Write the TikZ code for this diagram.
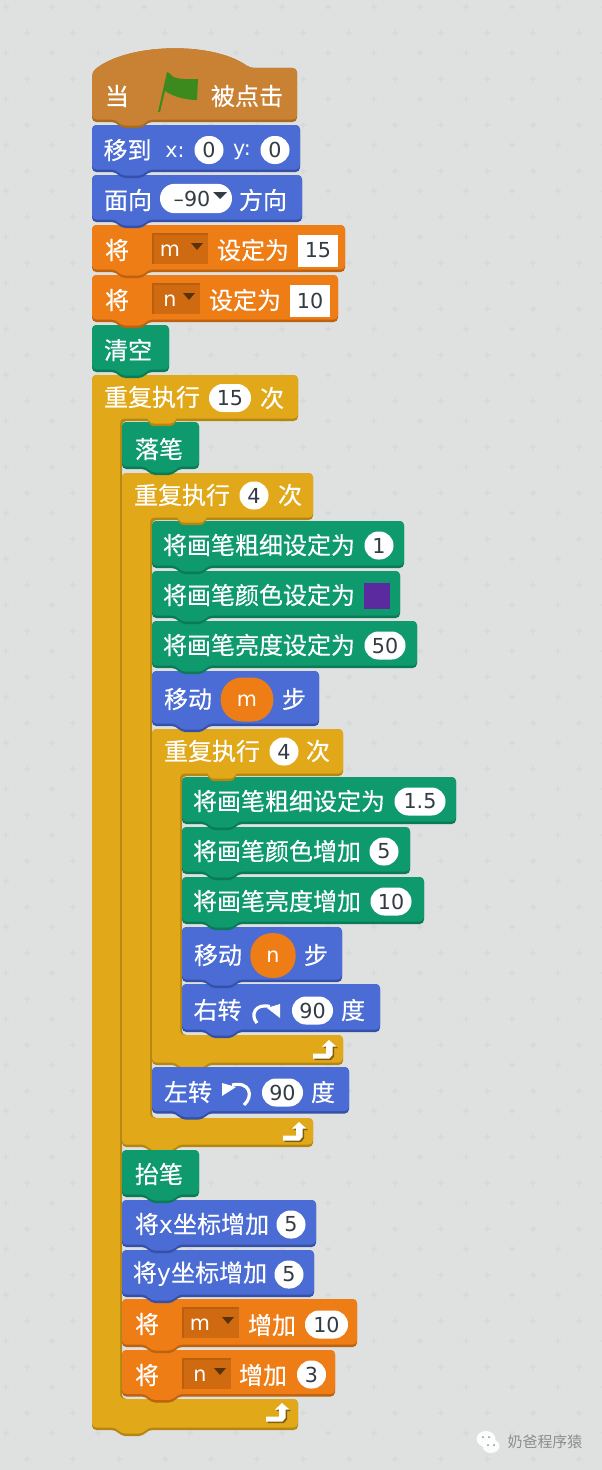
\documentclass[tikz,border=0pt]{standalone}
\usepackage{fontspec}
\setmainfont{Noto Sans CJK SC}[FakeBold=0.35]
\newfontfamily\wmfont{Noto Sans CJK SC}
\newfontfamily\latn{DejaVu Sans}
\definecolor{bgc}{HTML}{DFE1E1}
\definecolor{plusc}{HTML}{D7D9D9}
\definecolor{hatM}{HTML}{C98233}\definecolor{hatD}{HTML}{A96A22}
\definecolor{motM}{HTML}{4A6CD4}\definecolor{motD}{HTML}{3550A8}
\definecolor{penM}{HTML}{0E9A6C}\definecolor{penD}{HTML}{0B7A56}
\definecolor{datM}{HTML}{EE7D16}\definecolor{datD}{HTML}{BD6210}
\definecolor{ctlM}{HTML}{E1A91A}\definecolor{ctlD}{HTML}{B58712}
\definecolor{ddM}{HTML}{CF6A10}
\definecolor{ddT}{HTML}{5A3208}
\definecolor{ink}{HTML}{333B45}
\definecolor{wm}{HTML}{8C8E8E}
\definecolor{purp}{HTML}{5B2A9E}
\definecolor{flagc}{HTML}{3C8A1E}
\tikzset{
 x=.75pt,y=-.75pt,
 lab/.style={text=white,font=\fontsize{18}{19}\selectfont,inner sep=0pt,anchor=center},
 latlab/.style={text=white,font=\latn\fontsize{15.5}{18}\selectfont,inner sep=0pt,anchor=center,text height=11pt},
 oval/.style={fill=white,text=ink,font=\latn\fontsize{15.5}{18}\selectfont,inner sep=0pt,minimum height=21pt,rounded corners=10.4pt},
 ddbox/.style={text=white,font=\latn\fontsize{15.5}{18}\selectfont,inner sep=0pt,text height=11pt},
 tbox/.style={fill=white,text=ink,font=\latn\fontsize{15.5}{18}\selectfont,inner sep=0pt},
 varoval/.style={fill=datM,text=white,font=\latn\fontsize{15.5}{18}\selectfont,inner sep=0pt,text height=11pt,rounded corners=16pt},
}
% tab outline helper: x, y of bottom edge
\newcommand\blkpath[3]{(0,0) -- (#1,0) -- (#1,#2) -- (56,#2) -- (51,#2+#3) -- (29,#2+#3) -- (24,#2) -- (0,#2) -- cycle}
% block: x y w h main dark
\newcommand\blk[6]{\begin{scope}[shift={(#1,#2)}]
 \fill[#6,rounded corners=3.2pt] \blkpath{#3}{#4}{6};
 \fill[#5,rounded corners=3.2pt] \blkpath{#3}{#4-2.5}{6};
\end{scope}}
% C block: x y w headh inner-end foot-bottom (absolute heights relative to y) footw
\newcommand\cblk[7]{\begin{scope}[shift={(#1,#2)}]
 \fill[ctlD,rounded corners=3.2pt] (0,0) -- (#3,0) -- (#3,#4) -- (30,#4) -- (30,#5) -- (#7,#5) -- (#7,#6) -- (56,#6) -- (51,#6+6) -- (29,#6+6) -- (24,#6) -- (0,#6) -- cycle;
 \fill[ctlM,rounded corners=3.2pt] (0,0) -- (#3,0) -- (#3,#4-2.5) -- (28,#4-2.5) -- (28,#5) -- (#7,#5) -- (#7,#6-2.5) -- (56,#6-2.5) -- (51,#6+3.5) -- (29,#6+3.5) -- (24,#6-2.5) -- (0,#6-2.5) -- cycle;
\end{scope}}
% header tab over the first child: x of child, y(bottom of header)
\newcommand\ctab[2]{\begin{scope}[shift={(#1,#2)}]
 \fill[ctlD,rounded corners=2pt] (24,-3) -- (29,5) -- (51,5) -- (56,-3) -- cycle;
 \fill[ctlM,rounded corners=2pt] (24,-4) -- (29,2.5) -- (51,2.5) -- (56,-4) -- cycle;
\end{scope}}
\newcommand\tlab[4]{\node[lab] (#1) at (#2,#3) {#4};}
\newcommand\llab[4]{\node[latlab] (#1) at (#2,#3) {#4};}
\newcommand\val[5]{\node[oval,minimum width=#4*.75pt] (#1) at (#2,#3) {#5};}
% dropdown: name x1 x2 y-center text
\newcommand\dd[5]{\fill[ddM!90!black] (#2,#4-16) rectangle (#3,#4+15);
 \fill[ddM] (#2+1.5,#4-14) rectangle (#3,#4+15);
 \node[ddbox,anchor=center] (#1) at (#2+18,#4+.5) {#5};
 \fill[ddT] (#3-17,#4-6) -- (#3-5,#4-6) -- (#3-11,#4+1) -- cycle;}
\newcommand\looparrow[2]{\begin{scope}[shift={(#1,#2)}]
 \fill[ctlD!70!black,shift={(1.5,1.5)}] (0,13.5) -- (13,13.5) -- (13,6.5) -- (9,6.5) -- (16,0) -- (23.5,6.5) -- (19.5,6.5) -- (19.5,15) -- (16.5,18.5) -- (0,18.5) -- cycle;
 \fill[white] (0,13.5) -- (13,13.5) -- (13,6.5) -- (9,6.5) -- (16,0) -- (23.5,6.5) -- (19.5,6.5) -- (19.5,15) -- (16.5,18.5) -- (0,18.5) -- cycle;
\end{scope}}
\begin{document}
\begin{tikzpicture}
\useasboundingbox (0,0) rectangle (602,1470);
\fill[bgc] (0,0) rectangle (602,1470);
% background pattern
\foreach \i in {0,...,13}{\foreach \j in {0,...,32}{
 \pgfmathsetmacro\ax{27+46*\i}\pgfmathsetmacro\ay{-13+46*\j}
 \pgfmathsetmacro\bx{6+46*\i}\pgfmathsetmacro\by{7+46*\j}
 \fill[plusc] (\ax-3,\ay-.6) rectangle (\ax+3,\ay+.6) (\ax-.6,\ay-3) rectangle (\ax+.6,\ay+3)
              (\bx-3,\by-.6) rectangle (\bx+3,\by+.6) (\bx-.6,\by-3) rectangle (\bx+.6,\by+3);
}}
% ---- C-blocks first (outermost first)
\cblk{92}{375}{206}{46}{1024}{1055}{206}
\cblk{122}{473}{191}{47}{645}{674}{191}
\cblk{152}{729}{191}{47}{306}{336}{191}
% ---- children, bottom to top
\blk{122}{1350}{213}{46.5}{datM}{datD}
\blk{122}{1299}{235}{48}{datM}{datD}
\blk{122}{1250}{192}{47}{motM}{motD}
\blk{122}{1200}{194}{47}{motM}{motD}
\blk{122}{1150}{77}{47}{penM}{penD}
\blk{152}{1067}{197}{46.5}{motM}{motD}
\blk{182}{984}{198}{48}{motM}{motD}
\blk{182}{927}{160}{55}{motM}{motD}
\blk{182}{877}{242}{47}{penM}{penD}
\blk{182}{827}{228}{47}{penM}{penD}
\blk{182}{777}{274}{47}{penM}{penD}
\ctab{182}{776}
\blk{152}{671}{167}{55}{motM}{motD}
\blk{152}{621}{265}{47}{penM}{penD}
\blk{152}{571}{248}{47}{penM}{penD}
\blk{152}{521}{252}{47}{penM}{penD}
\ctab{152}{520}
\blk{122}{422}{77}{47}{penM}{penD}
\ctab{122}{421}
% ---- top stack, bottom to top
\blk{92}{325}{77}{47}{penM}{penD}
\blk{92}{275}{246}{47}{datM}{datD}
\blk{92}{225}{253}{47}{datM}{datD}
\blk{92}{175}{210}{47}{motM}{motD}
\blk{92}{125}{208}{47}{motM}{motD}
% hat
\begin{scope}[shift={(92,0)}]
 \fill[hatD,rounded corners=3.2pt] (0,72) .. controls (35,43) and (120,41) .. (158,68) -- (205,68) -- (205,122) -- (56,122) -- (51,128) -- (29,128) -- (24,122) -- (0,122) -- cycle;
 \fill[hatM,rounded corners=3.2pt] (0,72) .. controls (35,43) and (120,41) .. (158,68) -- (205,68) -- (205,119.5) -- (56,119.5) -- (51,125.5) -- (29,125.5) -- (24,119.5) -- (0,119.5) -- cycle;
\end{scope}
% texts
\tlab{t01}{117}{96}{当}
\fill[flagc] (158,112) -- (167,72) -- (169,73) .. controls (172,78) and (180,80) .. (198,79) -- (197,100) .. controls (186,100) and (174,97) .. (165,91) -- (160,112) -- cycle;
\tlab{t02}{247}{96}{被点击}
\tlab{t03}{127.5}{150}{移到}
\llab{t04}{175}{150}{x:}
\val{v01}{209}{150}{29}{0}
\llab{t05}{242}{150}{y:}
\val{v02}{275}{150}{29}{0}
\tlab{t06}{128}{200}{面向}
\node[oval,minimum width=54pt,minimum height=22pt,rounded corners=10.9pt] (v03) at (196,198.5) {};
\node[text=ink,font=\latn\fontsize{15.5}{18}\selectfont,inner sep=0pt] (v03t) at (192,199) {–90};
\fill[ink] (213,192) -- (227,192) -- (220,199) -- cycle;
\tlab{t07}{263}{200}{方向}
\tlab{t08}{117}{250}{将}
\dd{d01}{152}{208}{249}{m}
\tlab{t09}{253}{250}{设定为}
\node[tbox,minimum width=29.5pt,minimum height=24pt] (v04) at (318,250.5) {15};
\tlab{t10}{117}{300}{将}
\dd{d02}{152}{200}{299}{n}
\tlab{t11}{245}{300}{设定为}
\node[tbox,minimum width=29.5pt,minimum height=24pt] (v05) at (310,300.5) {10};
\tlab{t12}{128}{350}{清空}
\tlab{t13}{152}{397}{重复执行}
\val{v06}{230}{398}{42}{15}
\tlab{t14}{272}{398}{次}
\tlab{t15}{159}{449}{落笔}
\tlab{t16}{182}{495}{重复执行}
\val{v07}{254}{495.5}{29}{4}
\tlab{t17}{290}{495}{次}
\tlab{t18}{259}{545}{将画笔粗细设定为}
\val{v08}{379}{545.5}{29}{1}
\tlab{t19}{259}{595}{将画笔颜色设定为}
\fill[purp] (364,583) rectangle (390,609);
\tlab{t20}{259}{645}{将画笔亮度设定为}
\val{v09}{385}{645.5}{41}{50}
\tlab{t21}{188}{699}{移动}
\node[varoval,minimum width=39.5pt,minimum height=33pt] (v10) at (247,699.5) {m};
\tlab{t22}{294}{699}{步}
\tlab{t23}{212}{751}{重复执行}
\val{v11}{284}{751.5}{29}{4}
\tlab{t24}{318}{751}{次}
\tlab{t25}{289}{801}{将画笔粗细设定为}
\val{v12}{420}{801.5}{51}{1.5}
\tlab{t26}{277}{851}{将画笔颜色增加}
\val{v13}{384}{851.5}{29}{5}
\tlab{t27}{277}{901}{将画笔亮度增加}
\val{v14}{391}{901.5}{41}{10}
\tlab{t28}{218}{955}{移动}
\node[varoval,minimum width=34pt,minimum height=33.5pt] (v15) at (273,955.5) {n};
\tlab{t29}{316}{955}{步}
\tlab{t30}{217.5}{1010}{右转}
% clockwise icon
\draw[white,line width=2.4pt] (257,1023) .. controls (250,1015) and (255,1003) .. (270,1006.5);
\fill[white] (280,1004) -- (267,1008) -- (280,1018) -- cycle;
\val{v16}{312.5}{1010.5}{41}{90}
\tlab{t31}{353}{1010}{度}
\looparrow{313}{1040}
\tlab{t32}{188}{1092}{左转}
% anti-clockwise icon
\draw[white,line width=2.4pt] (232,1085) .. controls (250,1081) and (254,1096) .. (244,1105);
\fill[white] (222,1083) -- (236,1087) -- (222,1096) -- cycle;
\val{v17}{282.5}{1092.5}{41}{90}
\tlab{t33}{323}{1092}{度}
\looparrow{283}{1122}
\tlab{t34}{159}{1174}{抬笔}
\tlab{t35}{202}{1224}{将{\latn x}坐标增加}
\val{v18}{291}{1224.5}{29}{5}
\tlab{t36}{200}{1274}{将{\latn y}坐标增加}
\val{v19}{289}{1274.5}{29}{5}
\tlab{t37}{147}{1324}{将}
\dd{d03}{182}{239}{1323}{m}
\tlab{t38}{272}{1325}{增加}
\val{v20}{326.5}{1324.5}{43}{10}
\tlab{t39}{147}{1375}{将}
\dd{d04}{182}{231}{1374}{n}
\tlab{t40}{263}{1375}{增加}
\val{v21}{311.5}{1374.5}{29}{3}
\looparrow{266}{1403}
% watermark
\fill[white,opacity=.9] (486,1439) ellipse (9.5 and 8);
\fill[white,opacity=.9] (491,1446) ellipse (8.5 and 7);
\fill[wm] (483,1437) circle (1) (489,1437) circle (1) (488,1445) circle (1) (494,1445) circle (1);
\node[text=wm,font=\wmfont\fontsize{11.2}{12}\selectfont,inner sep=0pt] (w1) at (545,1442) {奶爸程序猿};
\end{tikzpicture}
\end{document}
